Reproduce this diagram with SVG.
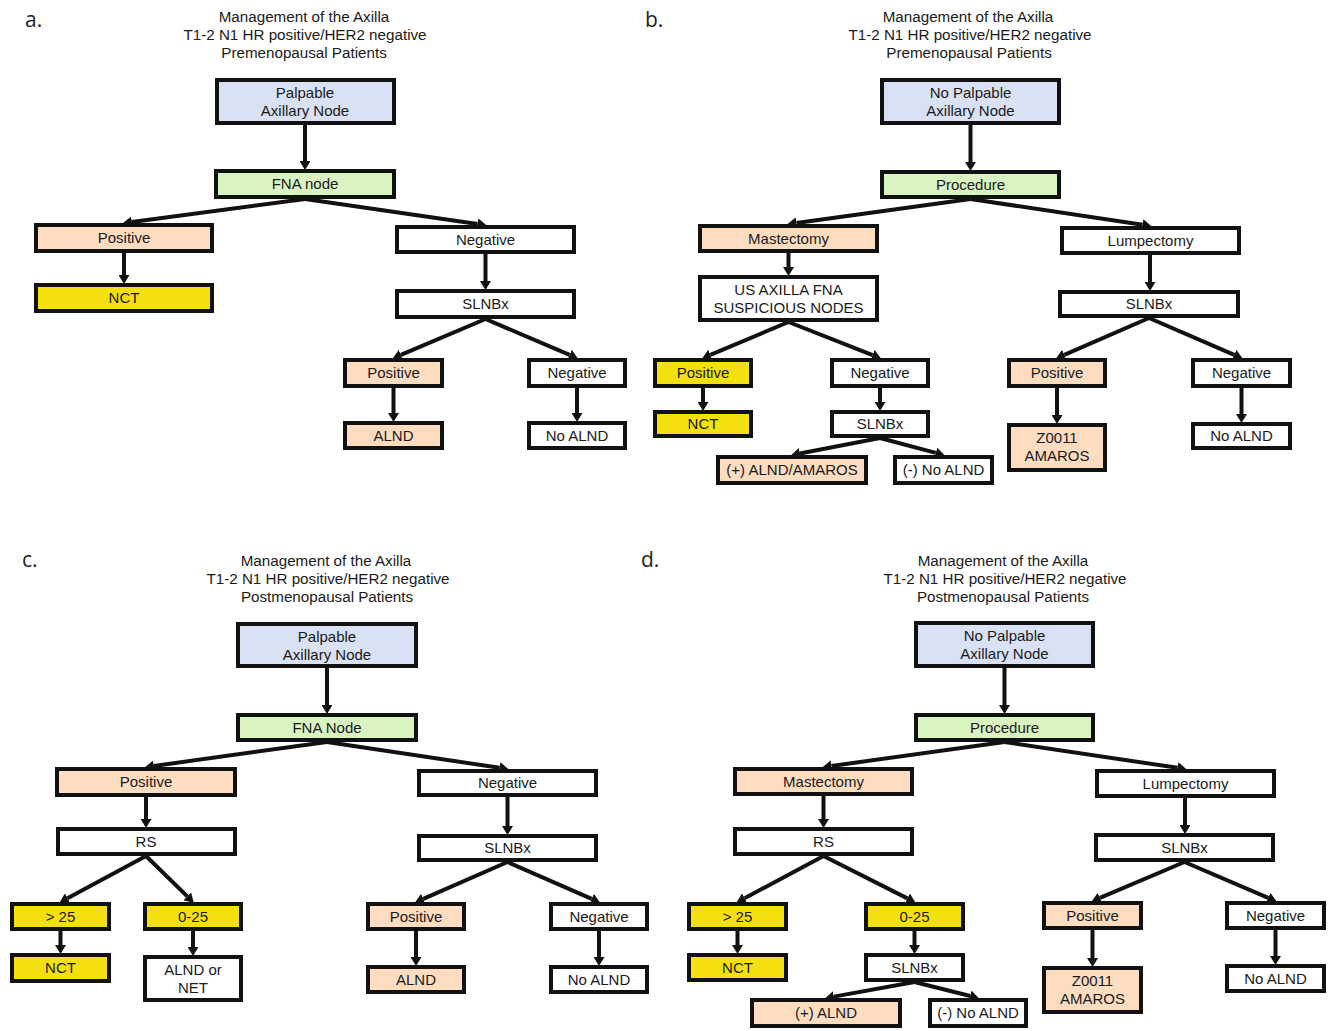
<svg xmlns="http://www.w3.org/2000/svg" width="1330" height="1031" viewBox="0 0 1330 1031">
<style>
.bx{stroke:#111;stroke-width:4}
.bl{fill:#d9e2f5}.gr{fill:#d9f4c0}.pe{fill:#fddcc0}.ye{fill:#f4e00e}.wh{fill:#ffffff}
text{font-family:"Liberation Sans",Arial,sans-serif;font-size:15px;fill:#1a1a1a;text-anchor:middle}
.ttl{font-size:15.2px}
.pl{font-family:"Open Sans","DejaVu Sans",sans-serif;font-size:21px;text-anchor:start;fill:#222}
.cn line{stroke:#111;stroke-width:4;marker-end:url(#ah)}
</style>
<defs>
<marker id="ah" markerUnits="userSpaceOnUse" markerWidth="10" markerHeight="11" refX="0" refY="5.5" orient="auto" viewBox="0 0 10 11">
<path d="M0,0 L9,5.5 L0,11 z" fill="#111"/>
</marker>
</defs>
<rect width="1330" height="1031" fill="#fff"/>

<!-- Panel labels and titles -->
<text class="pl" x="25" y="27">a.</text>
<text class="pl" x="645" y="27">b.</text>
<text class="pl" x="22" y="567">c.</text>
<text class="pl" x="641" y="567">d.</text>

<g id="title-a"><text class="ttl" x="304" y="22">Management of the Axilla</text><text class="ttl" x="305" y="40">T1-2 N1 HR positive/HER2 negative</text><text class="ttl" x="304" y="58">Premenopausal Patients</text></g>
<g id="title-b"><text class="ttl" x="968" y="22">Management of the Axilla</text><text class="ttl" x="970" y="40">T1-2 N1 HR positive/HER2 negative</text><text class="ttl" x="969" y="58">Premenopausal Patients</text></g>
<g id="title-c"><text class="ttl" x="326" y="566">Management of the Axilla</text><text class="ttl" x="328" y="584">T1-2 N1 HR positive/HER2 negative</text><text class="ttl" x="327" y="602">Postmenopausal Patients</text></g>
<g id="title-d"><text class="ttl" x="1003" y="566">Management of the Axilla</text><text class="ttl" x="1005" y="584">T1-2 N1 HR positive/HER2 negative</text><text class="ttl" x="1003" y="602">Postmenopausal Patients</text></g>

<!-- Connectors -->
<g id="connectors" class="cn">
<!-- a -->
<line x1="305" y1="125" x2="305" y2="161"/>
<line x1="305" y1="199" x2="131.9" y2="221.9"/>
<line x1="305" y1="199" x2="477.6" y2="223.9"/>
<line x1="124" y1="253" x2="124" y2="275"/>
<line x1="485.5" y1="254" x2="485.5" y2="281"/>
<line x1="485.5" y1="319" x2="400.9" y2="354.9"/>
<line x1="485.5" y1="319" x2="569.6" y2="354.9"/>
<line x1="393.5" y1="388" x2="393.5" y2="413"/>
<line x1="577" y1="388" x2="577" y2="413"/>
<!-- b -->
<line x1="970.5" y1="125" x2="970.5" y2="162"/>
<line x1="970.5" y1="199" x2="796.4" y2="222.9"/>
<line x1="970.5" y1="199" x2="1142.6" y2="224.8"/>
<line x1="788.5" y1="253" x2="788.5" y2="267"/>
<line x1="1150" y1="255" x2="1150" y2="282"/>
<line x1="788.5" y1="322" x2="710.4" y2="354.9"/>
<line x1="788.5" y1="322" x2="872.6" y2="355.1"/>
<line x1="703" y1="388" x2="703" y2="402"/>
<line x1="880" y1="388" x2="880" y2="402"/>
<line x1="880" y1="438" x2="799.9" y2="453.5"/>
<line x1="880" y1="438" x2="935.8" y2="452.9"/>
<line x1="1149" y1="318" x2="1064.3" y2="354.8"/>
<line x1="1149" y1="318" x2="1234.2" y2="354.8"/>
<line x1="1057" y1="388" x2="1057" y2="415"/>
<line x1="1241.5" y1="388" x2="1241.5" y2="414"/>
<!-- c -->
<line x1="327" y1="668" x2="327" y2="705"/>
<line x1="327" y1="742" x2="153.9" y2="765.9"/>
<line x1="327" y1="742" x2="499.6" y2="767.8"/>
<line x1="146" y1="797" x2="146" y2="819"/>
<line x1="507.5" y1="797" x2="507.5" y2="826"/>
<line x1="146" y1="856" x2="67.5" y2="898.2"/>
<line x1="146" y1="856" x2="187.3" y2="896.4"/>
<line x1="60.5" y1="931" x2="60.5" y2="945"/>
<line x1="193" y1="931" x2="193" y2="947"/>
<line x1="507.5" y1="862" x2="423.3" y2="898.8"/>
<line x1="507.5" y1="862" x2="591.7" y2="898.8"/>
<line x1="416" y1="931" x2="416" y2="957"/>
<line x1="599" y1="931" x2="599" y2="957"/>
<!-- d -->
<line x1="1004.5" y1="668" x2="1004.5" y2="705"/>
<line x1="1004.5" y1="742" x2="831.4" y2="765.9"/>
<line x1="1004.5" y1="742" x2="1177.6" y2="767.8"/>
<line x1="823.5" y1="796" x2="823.5" y2="819"/>
<line x1="1185" y1="798" x2="1185" y2="825"/>
<line x1="823.5" y1="856" x2="744.6" y2="898.2"/>
<line x1="823.5" y1="856" x2="907.4" y2="898.4"/>
<line x1="737.5" y1="931" x2="737.5" y2="945"/>
<line x1="914.5" y1="931" x2="914.5" y2="945"/>
<line x1="914.5" y1="982" x2="833.9" y2="996.6"/>
<line x1="914.5" y1="982" x2="970.2" y2="996"/>
<line x1="1184.5" y1="862" x2="1099.9" y2="897.9"/>
<line x1="1184.5" y1="862" x2="1268.2" y2="897.8"/>
<line x1="1092.5" y1="930" x2="1092.5" y2="958"/>
<line x1="1275.5" y1="930" x2="1275.5" y2="956"/>
</g>

<!-- Panel a nodes -->
<g id="a-palpable"><rect class="bx bl" x="217" y="80" width="177" height="43"/><text x="305" y="98">Palpable</text><text x="305" y="116">Axillary Node</text></g>
<g id="a-fna"><rect class="bx gr" x="216" y="171" width="178" height="26"/><text x="305" y="189">FNA node</text></g>
<g id="a-positive"><rect class="bx pe" x="36" y="225" width="176" height="26"/><text x="124" y="243">Positive</text></g>
<g id="a-negative"><rect class="bx wh" x="397" y="227" width="177" height="25"/><text x="485.5" y="245">Negative</text></g>
<g id="a-nct"><rect class="bx ye" x="36" y="285" width="176" height="26"/><text x="124" y="303">NCT</text></g>
<g id="a-slnbx"><rect class="bx wh" x="397" y="291" width="177" height="26"/><text x="485.5" y="309">SLNBx</text></g>
<g id="a-positive2"><rect class="bx pe" x="345" y="360" width="97" height="26"/><text x="393.5" y="378">Positive</text></g>
<g id="a-negative2"><rect class="bx wh" x="529" y="360" width="96" height="26"/><text x="577" y="378">Negative</text></g>
<g id="a-alnd"><rect class="bx pe" x="345" y="423" width="97" height="25"/><text x="393.5" y="441">ALND</text></g>
<g id="a-noalnd"><rect class="bx wh" x="529" y="423" width="96" height="25"/><text x="577" y="441">No ALND</text></g>

<!-- Panel b nodes -->
<g id="b-nopalpable"><rect class="bx bl" x="882" y="80" width="177" height="43"/><text x="970.5" y="98">No Palpable</text><text x="970.5" y="116">Axillary Node</text></g>
<g id="b-procedure"><rect class="bx gr" x="882" y="172" width="177" height="25"/><text x="970.5" y="190">Procedure</text></g>
<g id="b-mastectomy"><rect class="bx pe" x="700" y="226" width="177" height="25"/><text x="788.5" y="244">Mastectomy</text></g>
<g id="b-lumpectomy"><rect class="bx wh" x="1062" y="228" width="177" height="25"/><text x="1150.5" y="246">Lumpectomy</text></g>
<g id="b-usaxilla"><rect class="bx wh" x="700" y="277" width="177" height="43"/><text x="788.5" y="295">US AXILLA FNA</text><text x="788.5" y="313">SUSPICIOUS NODES</text></g>
<g id="b-positive"><rect class="bx ye" x="655" y="360" width="96" height="26"/><text x="703" y="378">Positive</text></g>
<g id="b-negative"><rect class="bx wh" x="832" y="360" width="96" height="26"/><text x="880" y="378">Negative</text></g>
<g id="b-nct"><rect class="bx ye" x="655" y="412" width="96" height="24"/><text x="703" y="429">NCT</text></g>
<g id="b-slnbx"><rect class="bx wh" x="832" y="412" width="96" height="24"/><text x="880" y="429">SLNBx</text></g>
<g id="b-alnd-amaros"><rect class="bx pe" x="718" y="457" width="148" height="26"/><text x="792" y="475">(+) ALND/AMAROS</text></g>
<g id="b-noalnd"><rect class="bx wh" x="895" y="457" width="97" height="26"/><text x="943.5" y="475">(-) No ALND</text></g>
<g id="b-slnbx2"><rect class="bx wh" x="1060" y="292" width="178" height="24"/><text x="1149" y="309">SLNBx</text></g>
<g id="b-positive2"><rect class="bx pe" x="1009" y="360" width="96" height="26"/><text x="1057" y="378">Positive</text></g>
<g id="b-negative2"><rect class="bx wh" x="1193" y="360" width="97" height="26"/><text x="1241.5" y="378">Negative</text></g>
<g id="b-z0011"><rect class="bx pe" x="1009" y="425" width="96" height="45"/><text x="1057" y="443">Z0011</text><text x="1057" y="461">AMAROS</text></g>
<g id="b-noalnd2"><rect class="bx wh" x="1193" y="424" width="97" height="24"/><text x="1241.5" y="441">No ALND</text></g>

<!-- Panel c nodes -->
<g id="c-palpable"><rect class="bx bl" x="238" y="624" width="178" height="42"/><text x="327" y="642">Palpable</text><text x="327" y="660">Axillary Node</text></g>
<g id="c-fna"><rect class="bx gr" x="238" y="715" width="178" height="25"/><text x="327" y="733">FNA Node</text></g>
<g id="c-positive"><rect class="bx pe" x="57" y="769" width="178" height="26"/><text x="146" y="787">Positive</text></g>
<g id="c-negative"><rect class="bx wh" x="419" y="771" width="177" height="24"/><text x="507.5" y="788">Negative</text></g>
<g id="c-rs"><rect class="bx wh" x="58" y="829" width="177" height="25"/><text x="146" y="847">RS</text></g>
<g id="c-slnbx"><rect class="bx wh" x="419" y="836" width="177" height="24"/><text x="507.5" y="853">SLNBx</text></g>
<g id="c-gt25"><rect class="bx ye" x="12" y="904" width="97" height="25"/><text x="60.5" y="922">&gt; 25</text></g>
<g id="c-0-25"><rect class="bx ye" x="145" y="904" width="96" height="25"/><text x="193" y="922">0-25</text></g>
<g id="c-nct"><rect class="bx ye" x="12" y="955" width="97" height="26"/><text x="60.5" y="973">NCT</text></g>
<g id="c-alnd-net"><rect class="bx wh" x="145" y="957" width="96" height="43"/><text x="193" y="975">ALND or</text><text x="193" y="993">NET</text></g>
<g id="c-positive2"><rect class="bx pe" x="368" y="904" width="96" height="25"/><text x="416" y="922">Positive</text></g>
<g id="c-negative2"><rect class="bx wh" x="551" y="904" width="96" height="25"/><text x="599" y="922">Negative</text></g>
<g id="c-alnd"><rect class="bx pe" x="368" y="967" width="96" height="25"/><text x="416" y="985">ALND</text></g>
<g id="c-noalnd"><rect class="bx wh" x="551" y="967" width="96" height="25"/><text x="599" y="985">No ALND</text></g>

<!-- Panel d nodes -->
<g id="d-nopalpable"><rect class="bx bl" x="916" y="623" width="177" height="43"/><text x="1004.5" y="641">No Palpable</text><text x="1004.5" y="659">Axillary Node</text></g>
<g id="d-procedure"><rect class="bx gr" x="916" y="715" width="177" height="25"/><text x="1004.5" y="733">Procedure</text></g>
<g id="d-mastectomy"><rect class="bx pe" x="735" y="769" width="177" height="25"/><text x="823.5" y="787">Mastectomy</text></g>
<g id="d-lumpectomy"><rect class="bx wh" x="1097" y="771" width="177" height="25"/><text x="1185.5" y="789">Lumpectomy</text></g>
<g id="d-rs"><rect class="bx wh" x="735" y="829" width="177" height="25"/><text x="823.5" y="847">RS</text></g>
<g id="d-slnbx"><rect class="bx wh" x="1096" y="835" width="177" height="25"/><text x="1184.5" y="853">SLNBx</text></g>
<g id="d-gt25"><rect class="bx ye" x="689" y="904" width="97" height="25"/><text x="737.5" y="922">&gt; 25</text></g>
<g id="d-0-25"><rect class="bx ye" x="866" y="904" width="97" height="25"/><text x="914.5" y="922">0-25</text></g>
<g id="d-nct"><rect class="bx ye" x="689" y="955" width="97" height="25"/><text x="737.5" y="973">NCT</text></g>
<g id="d-slnbx2"><rect class="bx wh" x="866" y="955" width="97" height="25"/><text x="914.5" y="973">SLNBx</text></g>
<g id="d-alnd"><rect class="bx pe" x="752" y="1000" width="148" height="26"/><text x="826" y="1018">(+) ALND</text></g>
<g id="d-noalnd"><rect class="bx wh" x="930" y="1000" width="96" height="26"/><text x="978" y="1018">(-) No ALND</text></g>
<g id="d-positive"><rect class="bx pe" x="1044" y="903" width="97" height="25"/><text x="1092.5" y="921">Positive</text></g>
<g id="d-negative"><rect class="bx wh" x="1227" y="903" width="97" height="25"/><text x="1275.5" y="921">Negative</text></g>
<g id="d-z0011"><rect class="bx pe" x="1044" y="968" width="97" height="44"/><text x="1092.5" y="986">Z0011</text><text x="1092.5" y="1004">AMAROS</text></g>
<g id="d-noalnd2"><rect class="bx wh" x="1227" y="966" width="97" height="25"/><text x="1275.5" y="984">No ALND</text></g>
</svg>
